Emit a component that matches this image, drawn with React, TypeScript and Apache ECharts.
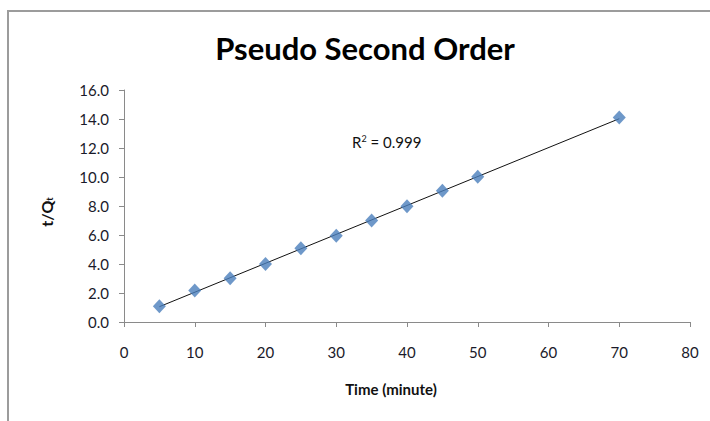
import React, { useEffect, useRef } from "react";
import * as echarts from "echarts";

const timeMinutes = [5, 10, 15, 20, 25, 30, 35, 40, 45, 50, 70];
const tOverQt = [1.08, 2.18, 3.02, 4.0, 5.08, 5.95, 7.0, 7.98, 9.05, 10.02, 14.1];
const xTicks = [0, 10, 20, 30, 40, 50, 60, 70, 80];
const yTicks = [0, 2, 4, 6, 8, 10, 12, 14, 16];
const rSquaredText = "0.999";

function linearFit(xs: number[], ys: number[]) {
  const n = xs.length;
  const mx = xs.reduce((a, b) => a + b, 0) / n;
  const my = ys.reduce((a, b) => a + b, 0) / n;
  let sxy = 0, sxx = 0;
  for (let i = 0; i < n; i++) {
    sxy += (xs[i] - mx) * (ys[i] - my);
    sxx += (xs[i] - mx) * (xs[i] - mx);
  }
  const slope = sxy / sxx;
  return { slope, intercept: my - slope * mx };
}

export default function App() {
  const ref = useRef<HTMLDivElement>(null);
  useEffect(() => {
    if (!ref.current) return;
    const chart = echarts.init(ref.current, null, { renderer: "svg" });
    const fit = linearFit(timeMinutes, tOverQt);
    const x0 = timeMinutes[0];
    const x1 = timeMinutes[timeMinutes.length - 1];
    const trend = [
      [x0, fit.slope * x0 + fit.intercept],
      [x1, fit.slope * x1 + fit.intercept],
    ];
    const font = "Lato, 'Open Sans', sans-serif";
    const axisColor = "#8a8a8a";
    chart.setOption({
      animation: false,
      backgroundColor: "#ffffff",
      grid: { left: 124, top: 90, right: 20, bottom: 99 },
      xAxis: {
        type: "value",
        min: xTicks[0],
        max: xTicks[xTicks.length - 1],
        interval: 10,
        splitLine: { show: false },
        axisLine: { show: true, lineStyle: { color: axisColor, width: 1 } },
        axisTick: { show: true, length: 5, lineStyle: { color: axisColor } },
        axisLabel: { color: "#1a1a2a", fontFamily: font, fontSize: 15, margin: 22 },
      },
      yAxis: {
        type: "value",
        min: yTicks[0],
        max: yTicks[yTicks.length - 1],
        interval: 2,
        splitLine: { show: false },
        axisLine: { show: true, lineStyle: { color: axisColor, width: 1 } },
        axisTick: { show: true, length: 5, lineStyle: { color: axisColor } },
        axisLabel: {
          color: "#1a1a2a",
          fontFamily: font,
          fontSize: 15,
          margin: 15,
          formatter: (v: number) => v.toFixed(1),
        },
      },
      series: [
        {
          type: "line",
          data: trend,
          showSymbol: false,
          symbol: "none",
          lineStyle: { color: "#111", width: 1 },
          z: 2,
        },
        {
          type: "scatter",
          data: timeMinutes.map((x, i) => [x, tOverQt[i]]),
          symbol: "diamond",
          symbolSize: [13, 14],
          itemStyle: { color: "#4a7ebb" },
          z: 3,
        },
      ],
      graphic: [
        {
          type: "rect",
          shape: { x: 8, y: 11, width: 800, height: 500 },
          style: { fill: "none", stroke: "#9c9c9c", lineWidth: 2 },
          silent: true,
        },
        {
          type: "text",
          x: 365,
          y: 48,
          style: {
            text: "Pseudo Second Order",
            font: `bold 31px ${font}`,
            fill: "#000",
            align: "center",
            verticalAlign: "middle",
          },
        },
        {
          type: "text",
          x: 391,
          y: 389,
          style: {
            text: "Time (minute)",
            font: `bold 15px ${font}`,
            fill: "#111",
            align: "center",
            verticalAlign: "middle",
          },
        },
        {
          type: "text",
          x: 46,
          y: 212,
          rotation: Math.PI / 2,
          style: {
            text: "{m|t/Q}{s|t}",
            align: "center",
            verticalAlign: "middle",
            rich: {
              m: { font: `bold 16px ${font}`, fill: "#111" },
              s: { font: `bold 9px ${font}`, fill: "#111", padding: [7, 0, 0, 0] },
            },
          },
        },
        {
          type: "text",
          x: 352,
          y: 142,
          style: {
            text: "{m|R}{s|2}{m| = " + rSquaredText + "}",
            align: "left",
            verticalAlign: "middle",
            rich: {
              m: { font: `15px ${font}`, fill: "#111" },
              s: { font: `9px ${font}`, fill: "#111", padding: [0, 0, 8, 0] },
            },
          },
        },
      ],
    });
    return () => chart.dispose();
  }, []);
  return (
    <div
      ref={ref}
      style={{ position: "fixed", left: 0, top: 0, width: 710, height: 421 }}
    />
  );
}
